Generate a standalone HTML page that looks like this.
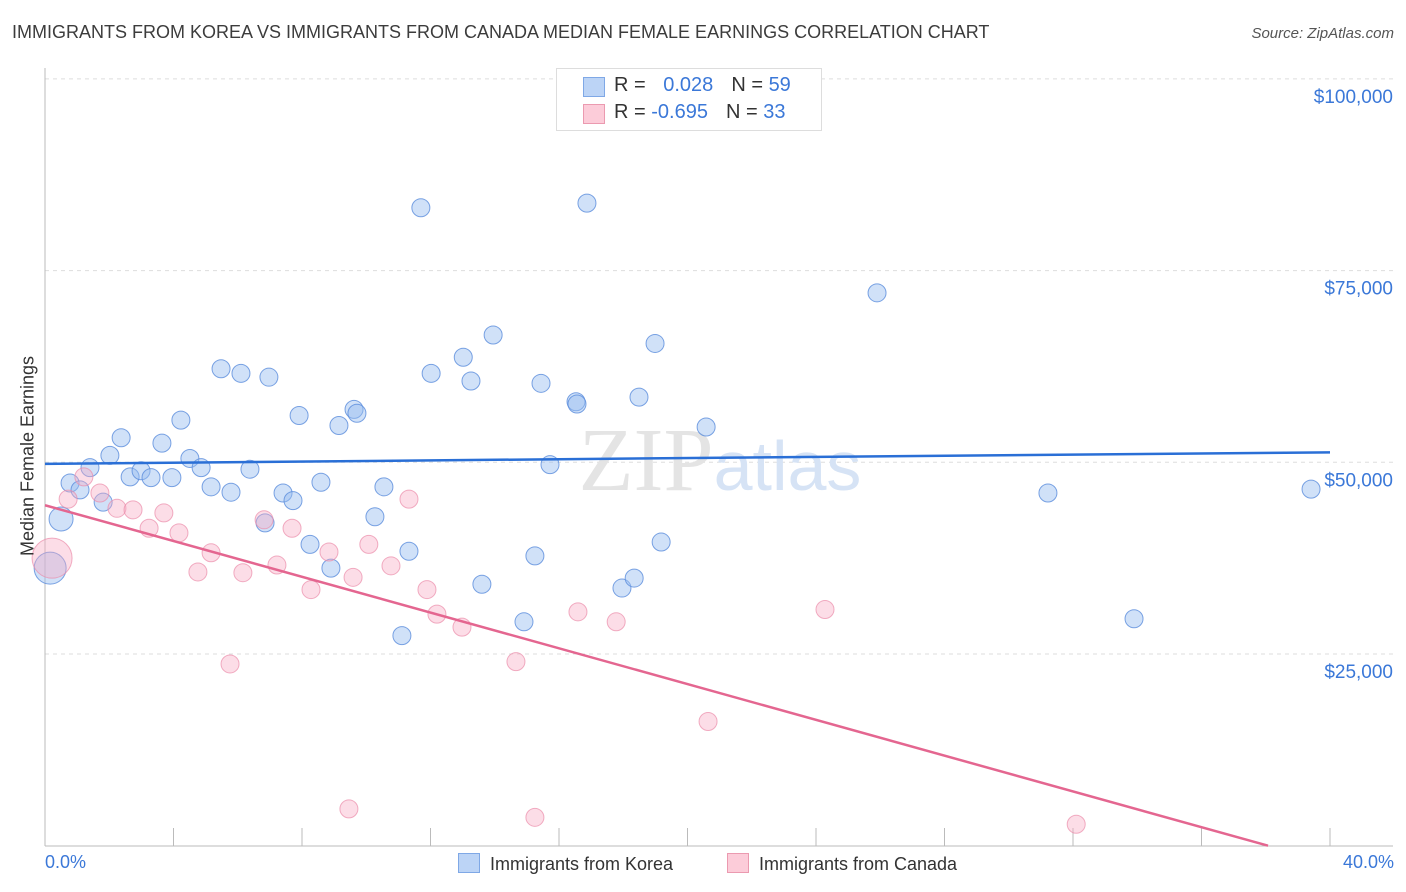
<!DOCTYPE html>
<html><head><meta charset="utf-8"><style>
body{margin:0;background:#fff;font-family:"Liberation Sans",sans-serif;}
#wrap{position:relative;width:1406px;height:892px;overflow:hidden;}
.t{position:absolute;white-space:nowrap;}
</style></head><body>
<div id="wrap">
<div class="t" style="left:12px;top:22px;font-size:18px;color:#3c3c3c;">IMMIGRANTS FROM KOREA VS IMMIGRANTS FROM CANADA MEDIAN FEMALE EARNINGS CORRELATION CHART</div>
<div class="t" style="right:12px;top:25px;font-size:15px;color:#555;font-style:italic;">Source: ZipAtlas.com</div>
<svg id="svg" width="1406" height="892" style="position:absolute;left:0;top:0"></svg>
<div class="t" style="left:556px;top:68px;width:264px;height:61px;border:1px solid #ddd;background:#fff;font-size:20px;">
 <div style="position:absolute;left:26px;top:8px;width:20px;height:18px;background:#bcd4f6;border:1px solid #7fa8e6;"></div>
 <div style="position:absolute;left:57px;top:5px;color:#333">R = <span style="color:#3b78d8;margin-left:12px">0.028</span><span style="color:#333;margin-left:18px">N = </span><span style="color:#3b78d8">59</span></div>
 <div style="position:absolute;left:26px;top:35px;width:20px;height:18px;background:#fcccd9;border:1px solid #eb9ab0;"></div>
 <div style="position:absolute;left:57px;top:32px;color:#333">R = <span style="color:#3b78d8">-0.695</span><span style="color:#333;margin-left:18px">N = </span><span style="color:#3b78d8">33</span></div>
</div>
<div class="t" style="left:28px;top:456px;font-size:18px;color:#333;transform:translate(-50%,-50%) rotate(-90deg);">Median Female Earnings</div>
<div class="t" style="left:45px;top:852px;font-size:18px;color:#3b78d8;">0.0%</div>
<div class="t" style="right:12px;top:852px;font-size:18px;color:#3b78d8;">40.0%</div>
<div class="t" style="left:458px;top:853px;font-size:18px;color:#333;"><span style="display:inline-block;width:20px;height:18px;background:#bcd4f6;border:1px solid #7fa8e6;vertical-align:-3px;margin-right:10px"></span>Immigrants from Korea</div>
<div class="t" style="left:727px;top:853px;font-size:18px;color:#333;"><span style="display:inline-block;width:20px;height:18px;background:#fcccd9;border:1px solid #eb9ab0;vertical-align:-3px;margin-right:10px"></span>Immigrants from Canada</div>
</div>
<script>
const yTicks=[25000,50000,75000,100000];
const yTickLabels=["$25,000","$50,000","$75,000","$100,000"];
const koreaX=[0.16,0.5,0.78,1.09,1.4,1.81,2.02,2.37,2.65,2.99,3.3,3.64,3.95,4.23,4.51,4.86,5.17,5.48,5.79,6.1,6.38,6.85,6.97,7.41,7.72,7.91,8.25,8.59,8.9,9.15,9.62,9.71,10.27,10.55,11.11,11.33,11.7,12.02,13.02,13.26,13.6,13.95,14.91,15.25,15.44,15.72,16.53,16.56,16.87,17.96,18.34,18.49,18.99,19.18,20.58,25.9,31.22,33.9,39.41];
const koreaY=[36.2,42.6,47.3,46.4,49.3,44.8,50.9,53.2,48.1,48.9,48.0,52.5,48.0,55.5,50.5,49.3,46.8,62.2,46.1,61.6,49.1,42.1,61.1,46.0,45.0,56.1,39.3,47.4,36.2,54.8,56.9,56.4,42.9,46.8,27.4,38.4,83.2,61.6,63.7,60.6,34.1,66.6,29.2,37.8,60.3,49.7,57.9,57.6,83.8,33.6,34.9,58.5,65.5,39.6,54.6,72.1,46.0,29.6,46.5];
const canadaX=[0.22,0.72,1.21,1.71,2.24,2.74,3.24,3.7,4.17,4.76,5.17,5.76,6.16,6.82,7.22,7.69,8.28,8.84,9.46,9.59,10.08,10.77,11.33,11.89,12.2,12.98,14.66,15.25,16.59,17.78,20.64,24.28,32.1];
const canadaY=[37.5,45.2,48.1,46.0,44.0,43.8,41.4,43.4,40.8,35.7,38.2,23.7,35.6,42.5,36.6,41.4,33.4,38.3,4.8,35.0,39.3,36.5,45.2,33.4,30.2,28.5,24.0,3.7,30.5,29.2,16.2,30.8,2.8];
const koreaTrend=[49.8,51.3];
const canadaTrend=[44.4,-2.25];
const NS="http://www.w3.org/2000/svg";
const svg=document.getElementById('svg');
const X=v=>45+v/40*1285;
const Y=v=>845.7-v*1000/25000*191.7;
function mk(t,a){const e=document.createElementNS(NS,t);for(const k in a)e.setAttribute(k,a[k]);svg.appendChild(e);return e;}
yTicks.forEach((v,i)=>{
 const g=mk('line',{x1:45,x2:1393,y1:Y(v/1000),y2:Y(v/1000),stroke:'#ddd','stroke-dasharray':'4,4'});
 
 
 const t=mk('text',{x:1393,y:Y(v/1000)+24,'text-anchor':'end','font-size':19,fill:'#3b78d8','font-family':'Liberation Sans'});
 t.textContent=yTickLabels[i];
 
 
});
const wm=mk('text',{x:720,y:490,'text-anchor':'middle','font-size':90,fill:'#e4e4e4','font-family':'Liberation Serif'});
wm.innerHTML='ZIP<tspan font-family="Liberation Sans" fill="#d6e3f5" font-size="70">atlas</tspan>';


const ax=mk('line',{x1:45,x2:45,y1:68,y2:846,stroke:'#bbb'});


const bx=mk('line',{x1:45,x2:1393,y1:846,y2:846,stroke:'#bbb'});


for(let i=1;i<=10;i++){const tk=mk('line',{x1:X(i*4),x2:X(i*4),y1:828,y2:846,stroke:'#bbb'});
 
 }
koreaX.forEach((x,i)=>{const r=i==0?16:(i==1?12:9);
 const c=mk('circle',{cx:X(x),cy:Y(koreaY[i]),r:r,fill:'rgba(150,188,240,0.45)',stroke:'rgba(90,140,220,0.8)','stroke-width':1});
 
 });
canadaX.forEach((x,i)=>{const r=i==0?20:9;
 const c=mk('circle',{cx:X(x),cy:Y(canadaY[i]),r:r,fill:'rgba(248,170,195,0.4)',stroke:'rgba(235,140,170,0.7)','stroke-width':1});
 
 });
const kl=mk('line',{x1:X(0),y1:Y(koreaTrend[0]),x2:X(40),y2:Y(koreaTrend[1]),stroke:'#2a6fd6','stroke-width':2.5});


const x0=40*canadaTrend[0]/(canadaTrend[0]-canadaTrend[1]);
const cl=mk('line',{x1:X(0),y1:Y(canadaTrend[0]),x2:X(Math.min(40,x0)),y2:Y(Math.max(0,canadaTrend[1])),stroke:'#e46690','stroke-width':2.5});


</script>
</body></html>
